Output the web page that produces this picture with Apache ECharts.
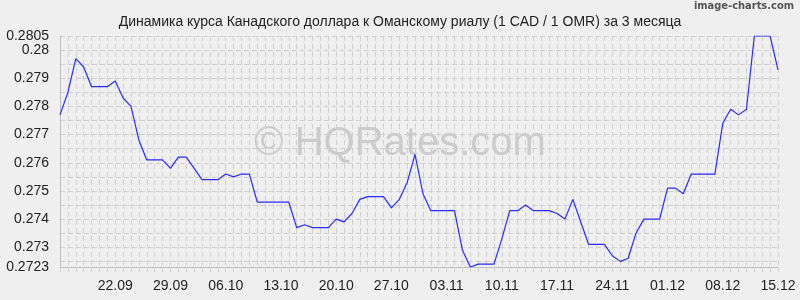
<!DOCTYPE html>
<html>
<head>
<meta charset="utf-8">
<script src="https://cdn.jsdelivr.net/npm/echarts@6/dist/echarts.min.js"></script>
<style>
html,body{margin:0;padding:0;background:#efefef;}
#chart{width:800px;height:300px;}
</style>
</head>
<body>
<div id="chart"></div>
<script>
const dates = [
 "15.09","16.09","17.09","18.09","19.09","20.09","21.09","22.09","23.09","24.09",
 "25.09","26.09","27.09","28.09","29.09","30.09","01.10","02.10","03.10","04.10",
 "05.10","06.10","07.10","08.10","09.10","10.10","11.10","12.10","13.10","14.10",
 "15.10","16.10","17.10","18.10","19.10","20.10","21.10","22.10","23.10","24.10",
 "25.10","26.10","27.10","28.10","29.10","30.10","31.10","01.11","02.11","03.11",
 "04.11","05.11","06.11","07.11","08.11","09.11","10.11","11.11","12.11","13.11",
 "14.11","15.11","16.11","17.11","18.11","19.11","20.11","21.11","22.11","23.11",
 "24.11","25.11","26.11","27.11","28.11","29.11","30.11","01.12","02.12","03.12",
 "04.12","05.12","06.12","07.12","08.12","09.12","10.12","11.12","12.12","13.12",
 "14.12","15.12"
];
const rates = [
 0.2777,0.2785,0.2797,0.2794,0.2787,0.2787,0.2787,0.2789,0.2783,0.2780,
 0.2768,0.2761,0.2761,0.2761,0.2758,0.2762,0.2762,0.2758,0.2754,0.2754,
 0.2754,0.2756,0.2755,0.2756,0.2756,0.2746,0.2746,0.2746,0.2746,0.2746,
 0.2737,0.2738,0.2737,0.2737,0.2737,0.2740,0.2739,0.2742,0.2747,0.2748,
 0.2748,0.2748,0.2744,0.2747,0.2753,0.2763,0.2749,0.2743,0.2743,0.2743,
 0.2743,0.2729,0.2723,0.2724,0.2724,0.2724,0.2733,0.2743,0.2743,0.2745,
 0.2743,0.2743,0.2743,0.2742,0.2740,0.2747,0.2739,0.2731,0.2731,0.2731,
 0.2727,0.2725,0.2726,0.2735,0.2740,0.2740,0.2740,0.2751,0.2751,0.2749,
 0.2756,0.2756,0.2756,0.2756,0.2774,0.2779,0.2777,0.2779,0.2805,0.2805,
 0.2805,0.2793
];
const xLabelDates = ["22.09","29.09","06.10","13.10","20.10","27.10","03.11","10.11","17.11","24.11","01.12","08.12","15.12"];
const yLabelValues = [0.2723,0.273,0.274,0.275,0.276,0.277,0.278,0.279,0.28,0.2805];
const yGridValues = [0.2725,0.273,0.2735,0.274,0.2745,0.275,0.2755,0.276,0.2765,0.277,0.2775,0.278,0.2785,0.279,0.2795,0.28,0.2805];
const yMin = 0.2723, yMax = 0.2805;
const titleText = "Динамика курса Канадского доллара к Оманскому риалу (1 CAD / 1 OMR) за 3 месяца";

const chart = echarts.init(document.getElementById('chart'), null, {renderer:'canvas'});
const gridColor = '#cfcfcf';
chart.setOption({
  backgroundColor: '#efefef',
  animation: false,
  title: {
    text: titleText, left: 'center', top: 10,
    textStyle: {fontFamily: 'Liberation Sans, Arial, sans-serif', fontSize: 14, fontWeight: 'normal', color: '#222'}
  },
  graphic: [
    {type:'text', right: 6, top: 1, style:{text:'image-charts.com', font:'bold 11px "Liberation Sans Narrow", "DejaVu Sans Condensed", sans-serif', fill:'#555'}},
    {type:'text', left: 'center', top: 124, z: 0, style:{text:'© HQRates.com', font:'40px "Liberation Sans", Arial, sans-serif', fill:'rgba(160,160,160,0.45)'}}
  ],
  grid: {left: 60, right: 22, top: 36, bottom: 33, containLabel: false},
  xAxis: {
    type: 'category', data: dates, boundaryGap: false,
    axisLine: {show: true, lineStyle: {color: '#bdbdbd'}},
    axisTick: {show: true, interval: 0, length: 8, lineStyle: {color: gridColor, type: [5,3]}},
    splitLine: {show: true, interval: 0, lineStyle: {color: gridColor, type: [5,3]}},
    axisLabel: {
      interval: (i, v) => xLabelDates.includes(v),
      margin: 12, fontFamily: 'Liberation Sans, Arial, sans-serif', fontSize: 14, color: '#222'
    }
  },
  yAxis: {
    type: 'value', min: yMin, max: yMax, scale: true,
    axisLine: {show: true, lineStyle: {color: '#bdbdbd'}},
    axisTick: {show: false, customValues: yGridValues},
    splitLine: {show: true, lineStyle: {color: gridColor, type: [5,3]}},
    axisLabel: {
      customValues: yLabelValues, margin: 11,
      fontFamily: 'Liberation Sans, Arial, sans-serif', fontSize: 14, color: '#222',
      formatter: v => String(+v.toFixed(4))
    }
  },
  series: [{
    type: 'line', data: rates, showSymbol: false, symbol: 'none',
    lineStyle: {color: '#2a2aff', width: 1.2}, z: 5
  }]
});
</script>
</body>
</html>
